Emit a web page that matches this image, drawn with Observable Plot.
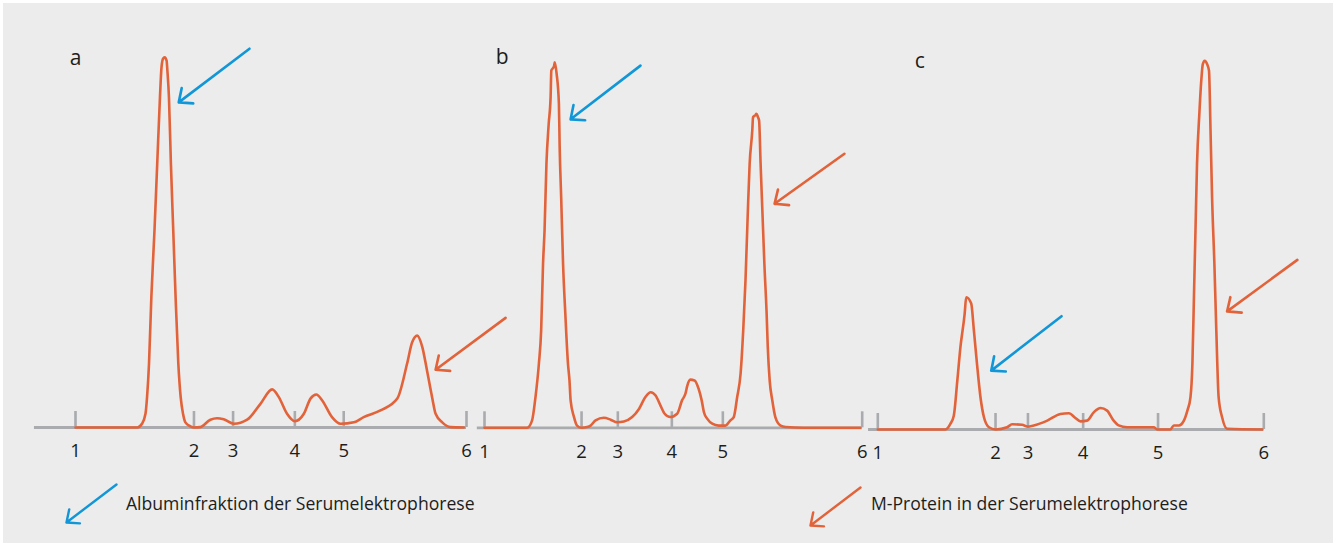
<!DOCTYPE html>
<html>
<head>
<meta charset="utf-8">
<script src="https://cdn.jsdelivr.net/npm/d3@7"></script>
<script src="https://cdn.jsdelivr.net/npm/@observablehq/plot@0.6"></script>
<style>
  html, body { margin: 0; padding: 0; background: #ffffff; }
  #page { position: relative; width: 1333px; height: 545px; overflow: hidden; font-family: "Open Sans", Lato, sans-serif; color: #1d1d1b; }
  #bg { position: absolute; left: 3px; top: 3px; width: 1330px; height: 540px; background: #ebeceb; }
  .panel, .swatch { position: absolute; top: 0; }
  .panel svg, .swatch svg { overflow: visible; }
  .legtext { position: absolute; font-size: 17.6px; line-height: 1; white-space: nowrap; }
</style>
</head>
<body>
<div id="page"><div id="bg"></div></div>
<script>
// ---- data (x: migration distance, tick "1" = 0, tick "6" = 100; y: relative intensity, highest albumin peak = 100)
const tickLabels = ["1", "2", "3", "4", "5", "6"];
const ticksA = [0, 30.3, 40.3, 56.1, 68.6, 100];
const ticksB = [0, 25.7, 35.3, 49.6, 63.1, 100];
const ticksC = [0, 30.5, 38.9, 53.2, 72.6, 100];

const curveA = [
  [0,0],[15.8,0],[17.0,1.0],[17.9,3.7],[18.3,8.2],[18.8,17.2],[19.4,35.2],[20.2,53.2],[20.9,71.2],
  [21.6,89.2],[22.0,97.3],[22.4,99.6],[22.8,100],[23.3,99.1],[23.5,96.4],[23.9,89.2],[24.4,71.2],
  [25.0,53.2],[25.6,35.2],[26.3,17.2],[26.9,8.2],[27.5,3.7],[28.1,1.4],[29.4,0.3],[30.3,0],
  [31.9,0.1],[34.5,2.1],[36.2,2.5],[37.9,2.2],[40.5,1.0],[43.9,2.1],[47.3,6.4],[50.3,10.3],
  [52.0,8.2],[54.1,3.7],[56.1,1.7],[58.4,3.7],[60.1,7.8],[61.6,8.9],[63.1,7.3],[65.6,2.8],
  [67.8,1.0],[71.2,1.4],[73.7,2.8],[78.0,4.6],[82.3,7.8],[84.8,17.2],[86.1,23.0],[87.4,24.8],
  [88.7,21.7],[89.9,15.4],[91.2,8.2],[92.1,3.7],[93.8,1.4],[95.9,0.1],[99.3,0]
];
const curveB = [
  [0,0],[11.3,0],[12.6,2.0],[13.5,8.3],[14.4,17.3],[15.0,26.3],[15.5,44.3],[15.9,53.3],[16.4,71.3],
  [17.0,82.1],[17.5,89.3],[17.7,96.5],[18.4,97.6],[18.6,98.7],[19.1,95.6],[19.7,87.5],[19.9,75.8],
  [20.3,62.3],[20.8,44.3],[21.4,30.8],[22.1,17.3],[22.5,12.8],[22.8,7.4],[23.7,2.9],[24.5,0.6],
  [25.7,0],[27.2,0.2],[28.1,0.6],[29.4,2.0],[31.6,2.7],[33.4,2.2],[35.1,1.5],[36.9,1.7],[39.1,2.9],
  [40.9,5.1],[42.6,8.3],[44.0,9.6],[45.3,8.7],[46.6,6.0],[47.7,3.8],[49.2,2.9],[51.0,3.8],[52.3,7.4],
  [53.2,9.2],[53.7,11.4],[54.5,13.0],[55.6,12.8],[56.7,10.5],[57.5,7.4],[58.1,4.2],[59.0,2.4],
  [60.3,1.1],[62.0,0.6],[63.8,0.6],[65.1,2.0],[66.0,2.9],[66.9,8.3],[67.8,14.6],[68.5,26.3],
  [69.1,39.8],[69.7,57.8],[70.2,71.3],[70.9,80.3],[71.1,83.9],[71.7,84.4],[72.0,84.8],[72.4,83.9],
  [72.7,83.0],[73.1,71.3],[73.6,57.8],[74.1,44.3],[74.7,30.8],[75.0,21.8],[75.5,12.8],[76.2,7.4],
  [77.0,2.9],[78.4,0.6],[79.7,0.2],[84.5,0],[99.5,0]
];
const curveC = [
  [0,0],[17.5,0],[18.8,1.5],[19.7,3.8],[20.6,13.2],[21.4,22.2],[22.5,31.2],[22.9,35.7],[24.2,34.0],
  [24.9,26.7],[25.7,17.7],[26.6,8.7],[27.5,3.3],[28.8,0.6],[30.5,0],[33.5,0.6],[34.8,1.4],[37.4,1.3],
  [38.7,0.8],[40.4,1.1],[43.9,2.4],[47.3,4.2],[49.5,4.4],[51.2,3.1],[52.5,2.2],[54.2,2.4],[56.0,4.7],
  [57.7,5.8],[59.4,5.1],[61.1,2.4],[62.4,1.1],[64.6,0.6],[71.5,0.6],[72.4,0],[75.8,0],[76.7,1.1],
  [78.0,1.1],[79.3,2.4],[80.2,5.1],[81.0,8.7],[81.5,17.7],[81.9,35.7],[82.3,53.7],[82.7,71.7],
  [83.3,85.2],[83.8,94.2],[84.2,98.7],[84.7,99.6],[85.3,98.7],[85.8,96.9],[86.2,80.7],[86.6,62.7],
  [87.2,44.7],[87.7,26.7],[88.3,8.7],[89.2,3.3],[90.5,0.2],[99.6,0]
];

// arrows: [x1, y1, x2, y2] (tail -> head)
const albuminArrowA = [44.5, 102.3, 26.4, 87.8];
const mProteinArrowA = [110.0, 29.6, 92.1, 15.6];
const albuminArrowB = [41.3, 97.8, 22.8, 83.3];
const mProteinArrowB = [95.3, 74.0, 76.8, 60.5];
const albuminArrowC = [47.6, 30.6, 29.4, 15.9];
const mProteinArrowC = [108.7, 45.8, 90.5, 31.9];

const panelLabels = ["a", "b", "c"];
const legendLabels = ["Albuminfraktion der Serumelektrophorese", "M-Protein in der Serumelektrophorese"];

// ---- styles & layout
const ORANGE = "#e2623a";
const BLUE = "#1196d8";
const GRAY = "#a9abae";
const INK = "#1d1d1b";
const SW = 2.6;
const FONT = "'Open Sans', Lato, sans-serif";

const panels = [
  { label: panelLabels[0], curve: curveA, ticks: ticksA, alb: albuminArrowA, mp: mProteinArrowA,
    labelAt: [0, 99.7], axisFrom: -10.5, left: 0, width: 520, px1: 75, px6: 466, base: 427 },
  { label: panelLabels[1], curve: curveB, ticks: ticksB, alb: albuminArrowB, mp: mProteinArrowB,
    labelAt: [4.7, 100.1], axisFrom: -1.9, left: 470, width: 400, px1: 484, px6: 861.7, base: 427.3 },
  { label: panelLabels[2], curve: curveC, ticks: ticksC, alb: albuminArrowC, mp: mProteinArrowC,
    labelAt: [10.9, 99.4], axisFrom: -2.4, left: 862, width: 471, px1: 877.3, px6: 1263.3, base: 429 }
];
const UNIT = 3.703; // px per intensity unit

const page = document.getElementById("page");

for (const p of panels) {
  const arrowOpts = (stroke) => ({
    x1: (d) => d[0], y1: (d) => d[1], x2: (d) => d[2], y2: (d) => d[3],
    stroke, strokeWidth: SW, headAngle: 82, headLength: 8.4
  });
  const chart = Plot.plot({
    width: p.width,
    height: 470,
    margin: 0,
    style: { background: "transparent", overflow: "visible", fontFamily: FONT, color: INK },
    x: { domain: [0, 100], range: [p.px1 - p.left, p.px6 - p.left], axis: null },
    y: { domain: [0, 100], range: [p.base, p.base - 100 * UNIT], axis: null },
    marks: [
      Plot.ruleY([0], { x1: p.axisFrom, x2: 100, stroke: GRAY, strokeWidth: 2.8 }),
      Plot.ruleX(p.ticks, { x: (d) => d, y1: 0, y2: 16 / UNIT, stroke: GRAY, strokeWidth: 2.6 }),
      Plot.text(p.ticks, { x: (d) => d, y: 0, text: (d, i) => tickLabels[i], dy: 24, fontSize: 18.5, fill: INK }),
      Plot.line(p.curve, { x: (d) => d[0], y: (d) => d[1], stroke: ORANGE, strokeWidth: SW, curve: "monotone-x", strokeLinejoin: "round" }),
      Plot.arrow([p.alb], arrowOpts(BLUE)),
      Plot.arrow([p.mp], arrowOpts(ORANGE)),
      Plot.text([p.labelAt], { x: (d) => d[0], y: (d) => d[1], text: () => p.label, fontSize: 21, fill: INK })
    ]
  });
  const div = document.createElement("div");
  div.className = "panel";
  div.style.left = p.left + "px";
  div.style.width = p.width + "px";
  div.appendChild(chart);
  page.appendChild(div);
}

// ---- legend (below the chart)
const legend = [
  { text: legendLabels[0], color: BLUE, swLeft: 63, swTop: 481, textLeft: 126 },
  { text: legendLabels[1], color: ORANGE, swLeft: 807, swTop: 484, textLeft: 871 }
];
for (const l of legend) {
  const sw = Plot.plot({
    width: 56, height: 44, margin: 0,
    style: { background: "transparent", overflow: "visible" },
    x: { domain: [0, 1], range: [3, 53], axis: null },
    y: { domain: [0, 1], range: [41, 3], axis: null },
    marks: [Plot.arrow([[1, 1, 0, 0]], { x1: (d) => d[0], y1: (d) => d[1], x2: (d) => d[2], y2: (d) => d[3],
      stroke: l.color, strokeWidth: 2.4, headAngle: 82, headLength: 8.4 })]
  });
  const d = document.createElement("div");
  d.className = "swatch";
  d.style.left = l.swLeft + "px";
  d.style.top = l.swTop + "px";
  d.appendChild(sw);
  page.appendChild(d);
  const t = document.createElement("div");
  t.className = "legtext";
  t.style.left = l.textLeft + "px";
  t.style.top = "495px";
  t.textContent = l.text;
  page.appendChild(t);
}
</script>
</body>
</html>
